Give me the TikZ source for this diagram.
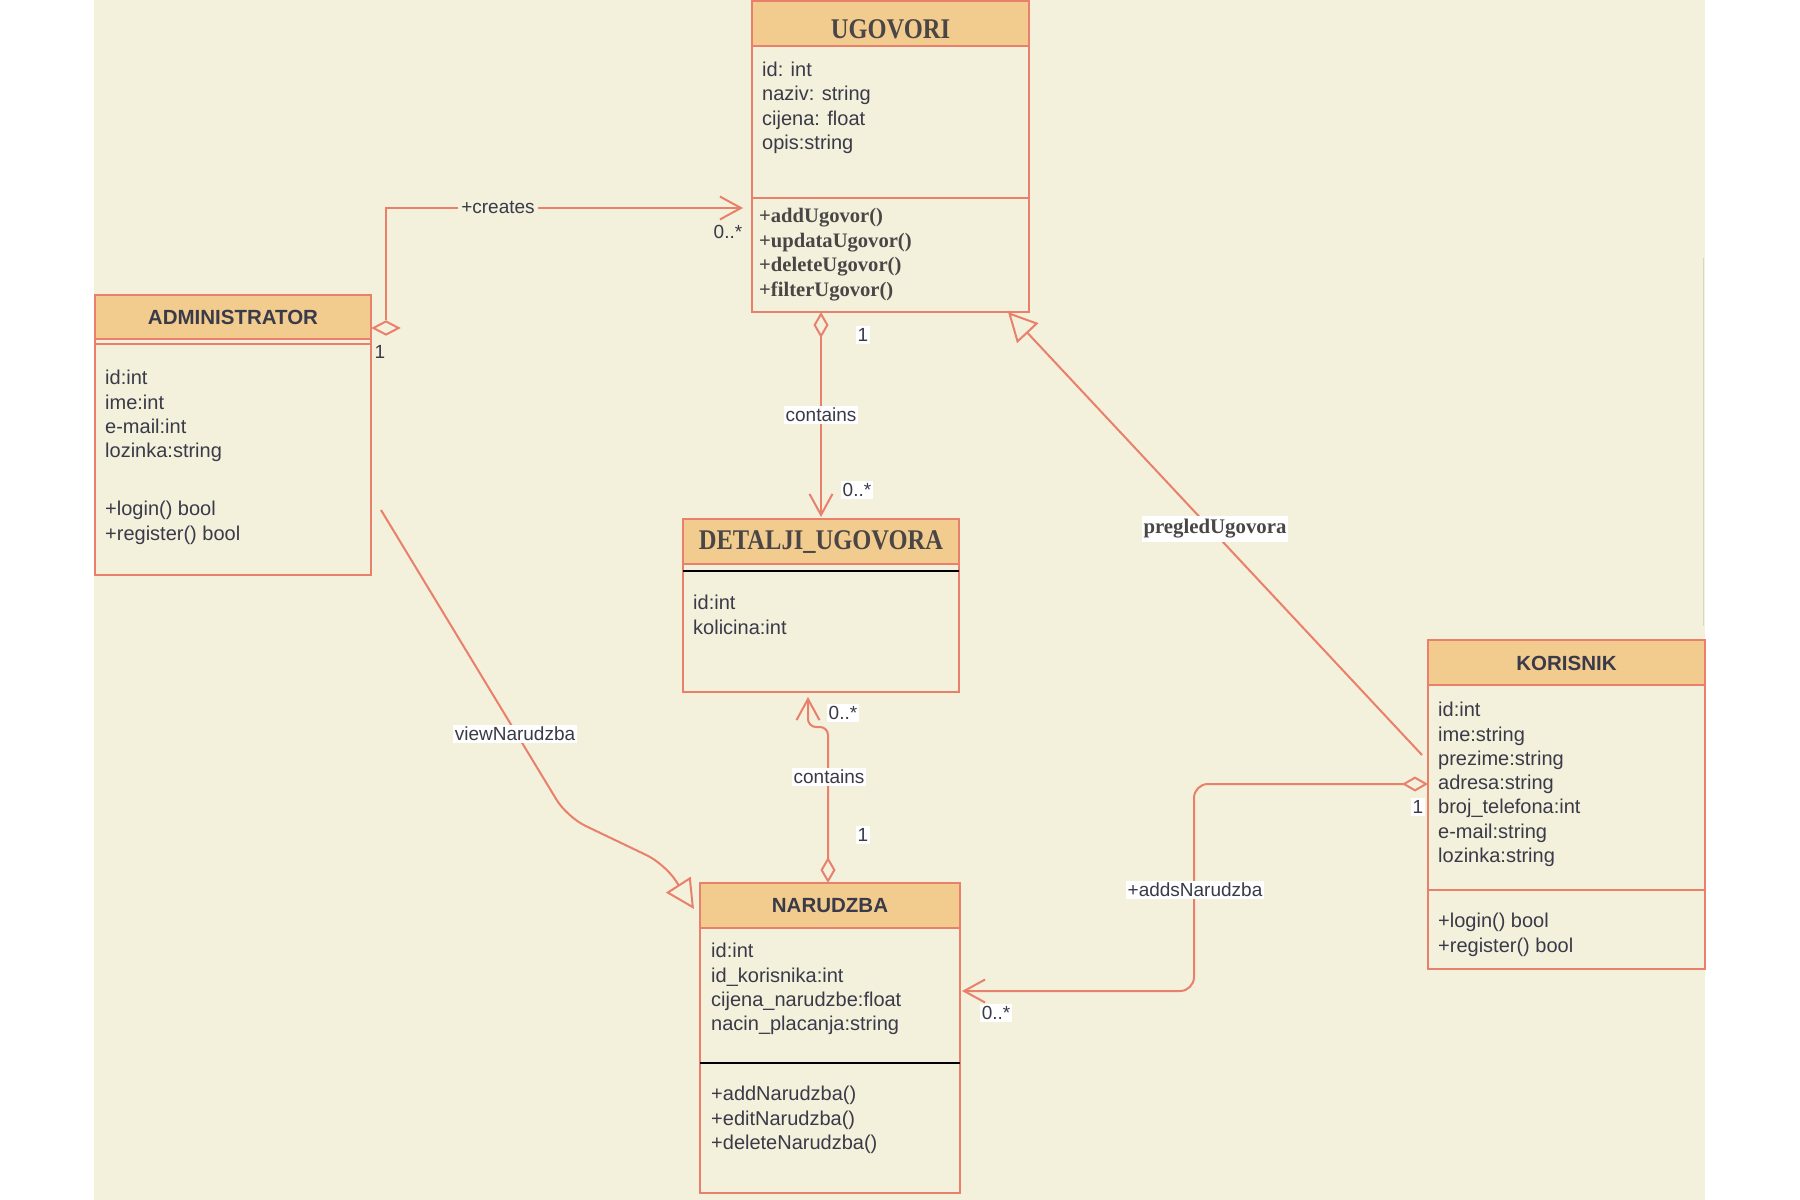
\documentclass[tikz,border=0pt]{standalone}
\usepackage{fontspec}
\setmainfont{Liberation Sans}
\newfontfamily\srf{Liberation Serif}
\newfontfamily\srfc[FakeStretch=0.86]{Liberation Serif}
\usetikzlibrary{arrows.meta,shapes.geometric}
\definecolor{bgC}{HTML}{F3F0DC}
\definecolor{hdrC}{HTML}{F2CC8F}
\definecolor{lnC}{HTML}{E9806B}
\definecolor{txC}{HTML}{3A3A48}
\definecolor{srC}{HTML}{4A4646}
\definecolor{edgeC}{HTML}{DAD5BE}
\tikzset{
  cls/.style={draw=lnC, line width=2pt, fill=bgC, anchor=north west, inner sep=0pt, outer sep=0pt},
  hdr/.style={draw=lnC, line width=2pt, fill=hdrC, anchor=north west, inner sep=0pt, outer sep=0pt},
  ttlS/.style={font=\bfseries\fontsize{20.5}{24}\selectfont, text=txC, inner sep=0pt},
  ttlR/.style={font=\srfc\bfseries\fontsize{28.5}{30}\selectfont, text=srC, inner sep=0pt},
  lst/.style={anchor=north west, align=left, inner sep=0pt, font=\fontsize{20}{24.3}\selectfont, text=txC},
  mth/.style={anchor=north west, align=left, inner sep=0pt, font=\srf\bfseries\fontsize{20.6}{24.6}\selectfont, text=srC},
  conn/.style={draw=lnC, line width=2pt},
  lbl/.style={fill=white, inner xsep=1.5pt, inner ysep=2.5pt, font=\fontsize{19}{21}\selectfont, text=txC},
  lblR/.style={fill=white, inner xsep=2pt, inner ysep=3pt, font=\srf\bfseries\fontsize{20.8}{22}\selectfont, text=srC},
  mult/.style={inner xsep=1pt, inner ysep=2pt, font=\fontsize{19}{21}\selectfont, text=txC},
  barb/.style={arrows={-{Straight Barb[length=21pt,width=23pt]}}},
  dbarb/.style={arrows={{Diamond[open,length=26pt,width=15pt]}-{Straight Barb[length=21pt,width=23pt]}}},
  tri/.style={arrows={-{Triangle[open,length=29pt,width=29pt]}}},
  dmd/.style={diamond, draw=lnC, line width=2pt, fill=bgC, minimum width=26pt, minimum height=14pt, inner sep=0pt, aspect=1.8}
}
\begin{document}
\begin{tikzpicture}[x=1pt,y=-1pt]
\useasboundingbox (0,0) rectangle (1800,1200);
\fill[white] (0,0) rectangle (1800,1200);
\fill[bgC] (94,0) rectangle (1705,1200);
\draw[edgeC, line width=1pt] (1703,258) -- (1703,626);

% UGOVORI
\node[cls, minimum width=277pt, minimum height=311pt] (ug) at (752,1) {};
\node[hdr, minimum width=277pt, minimum height=45pt] (ugh) at (752,1) {};
\node[ttlR] (ugt) at (890.5,29) {UGOVORI};
\draw[conn] (ug.west |- 0,198) -- (ug.east |- 0,198);
\node[lst] (uga) at (762,62) {id: int\\naziv: string\\cijena: float\\opis:string};
\node[mth] (ugm) at (759,208) {+addUgovor()\\+updataUgovor()\\+deleteUgovor()\\+filterUgovor()};

% ADMINISTRATOR
\node[cls, minimum width=276pt, minimum height=280pt] (adm) at (95,295) {};
\node[hdr, minimum width=276pt, minimum height=44pt] (admh) at (95,295) {};
\node[ttlS] (admt) at (233,317.5) {ADMINISTRATOR};
\draw[conn] (adm.west |- 0,344) -- (adm.east |- 0,344);
\node[lst] (adma) at (105,370) {id:int\\ime:int\\e-mail:int\\lozinka:string};
\node[lst] (admm) at (105,501) {+login() bool\\+register() bool};

% DETALJI_UGOVORA
\node[cls, minimum width=276pt, minimum height=173pt] (det) at (683,519) {};
\node[hdr, minimum width=276pt, minimum height=45pt] (deth) at (683,519) {};
\node[ttlR] (dett) at (821,542) {DETALJI\_UGOVORA};
\draw[black, line width=2pt] (det.west |- 0,571) -- (det.east |- 0,571);
\node[lst] (deta) at (693,595) {id:int\\kolicina:int};

% NARUDZBA
\node[cls, minimum width=260pt, minimum height=310pt] (nar) at (700,883) {};
\node[hdr, minimum width=260pt, minimum height=45pt] (narh) at (700,883) {};
\node[ttlS] (nart) at (830,906) {NARUDZBA};
\draw[black, line width=2pt] (nar.west |- 0,1063) -- (nar.east |- 0,1063);
\node[lst] (nara) at (711,943) {id:int\\id\_korisnika:int\\cijena\_narudzbe:float\\nacin\_placanja:string};
\node[lst] (narm) at (711,1086) {+addNarudzba()\\+editNarudzba()\\+deleteNarudzba()};

% KORISNIK
\node[cls, minimum width=277pt, minimum height=329pt] (kor) at (1428,640) {};
\node[hdr, minimum width=277pt, minimum height=45pt] (korh) at (1428,640) {};
\node[ttlS] (kort) at (1566.5,663.5) {KORISNIK};
\draw[conn] (kor.west |- 0,890) -- (kor.east |- 0,890);
\node[lst] (kora) at (1438,702) {id:int\\ime:string\\prezime:string\\adresa:string\\broj\_telefona:int\\e-mail:string\\lozinka:string};
\node[lst] (korm) at (1438,913) {+login() bool\\+register() bool};

% +creates
\node[dmd] (dA) at (386,328) {};
\coordinate (ugIn) at (743,208);
\draw[conn, barb] (dA.north) |- (ugIn);
\node[mult, fill=bgC, inner xsep=3pt] (lcr) at (498,207) {+creates};
\node[mult] (m1) at (380,352) {1};
\node[mult] (m2) at (728,232) {0..*};

% UGOVORI -> DETALJI contains
\draw[conn, dbarb] (821,0 |- ug.south) -- (821,517);
\node[lbl] (lc1) at (821,415) {contains};
\node[lbl] (m3) at (863,335) {1};
\node[lbl] (m4) at (857,490) {0..*};

% pregledUgovora
\coordinate (kP) at (1422,755);
\draw[conn, tri] (kP) -- (1008,0 |- ug.south);
\node[lblR] (lpu) at (1215,529) {pregledUgovora};

% viewNarudzba
\coordinate (vA) at (381,510);
\coordinate (vB) at (694,909);
\draw[conn, rounded corners=20pt, tri] (vA) -- (567,817) -- (665,864) -- (vB);
\node[lbl] (lvn) at (515,734) {viewNarudzba};

% NARUDZBA -> DETALJI contains
\coordinate (dIn) at (808,697);
\draw[conn, rounded corners=8pt, dbarb] (828,0 |- nar.north) -- (828,727) -- (808,727) -- (dIn);
\node[lbl] (lc2) at (829,777) {contains};
\node[lbl] (m5) at (863,835) {1};
\node[lbl] (m6) at (843,713) {0..*};

% +addsNarudzba
\coordinate (nIn) at (962,991);
\draw[conn, rounded corners=14pt, dbarb] (kor.west |- 0,784) -- (1194,784) -- (1194,991) -- (nIn);
\node[lbl] (lan) at (1195,890) {+addsNarudzba};
\node[lbl] (m7) at (1418,807) {1};
\node[lbl] (m8) at (996,1013) {0..*};
\end{tikzpicture}
\end{document}
